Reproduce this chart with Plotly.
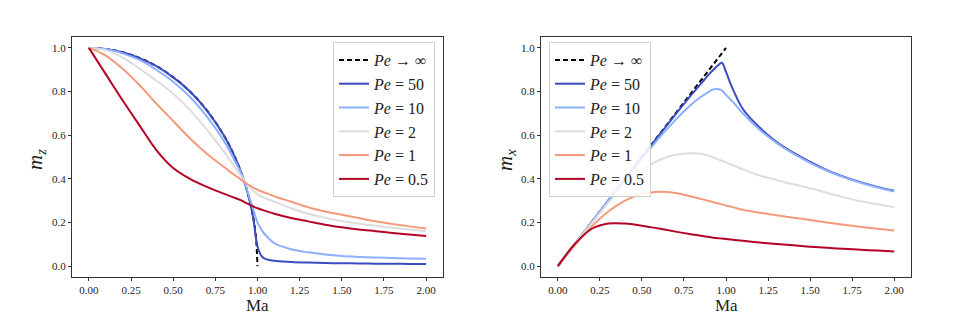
import plotly.graph_objects as go

# ---------------- data ----------------
MA = [0, 0.1, 0.2, 0.3, 0.4, 0.5, 0.6, 0.7, 0.8, 0.85, 0.9, 0.925, 0.95, 0.975,
      1.0, 1.025, 1.05, 1.1, 1.2, 1.3, 1.4, 1.5, 1.6, 1.7, 1.8, 1.9, 2.0]

# left panel: m_z
MA_INF_Z = [0, 0.1, 0.2, 0.3, 0.4, 0.5, 0.6, 0.7, 0.8, 0.85, 0.9, 0.95, 0.975, 0.99, 1.0]
MZ_INF = [1.0, 0.995, 0.98, 0.954, 0.917, 0.866, 0.80, 0.714, 0.60, 0.527, 0.436, 0.312, 0.222, 0.141, 0.0]
MZ_50 = [1.0, 0.995, 0.98, 0.953, 0.916, 0.865, 0.80, 0.713, 0.60, 0.527, 0.435, 0.38, 0.31, 0.22,
         0.09, 0.045, 0.032, 0.024, 0.019, 0.016, 0.014, 0.013, 0.012, 0.011, 0.011, 0.010, 0.010]
MZ_10 = [1.0, 0.995, 0.975, 0.945, 0.90, 0.845, 0.775, 0.685, 0.575, 0.505, 0.43, 0.38, 0.32, 0.26,
         0.20, 0.165, 0.14, 0.105, 0.077, 0.063, 0.053, 0.046, 0.042, 0.039, 0.037, 0.035, 0.034]
MZ_2 = [1.0, 0.99, 0.955, 0.905, 0.85, 0.79, 0.715, 0.625, 0.525, 0.47, 0.415, 0.39, 0.365, 0.345,
        0.33, 0.318, 0.31, 0.295, 0.265, 0.24, 0.222, 0.207, 0.195, 0.185, 0.176, 0.168, 0.16]
MZ_1 = [1.0, 0.965, 0.905, 0.83, 0.745, 0.665, 0.585, 0.515, 0.455, 0.425, 0.398, 0.383, 0.371, 0.36,
        0.35, 0.342, 0.335, 0.32, 0.295, 0.27, 0.25, 0.235, 0.22, 0.205, 0.193, 0.182, 0.172]
MZ_05 = [1.0, 0.88, 0.76, 0.645, 0.532, 0.45, 0.4, 0.363, 0.332, 0.317, 0.302, 0.292, 0.283, 0.273,
         0.265, 0.258, 0.252, 0.24, 0.22, 0.205, 0.19, 0.178, 0.168, 0.16, 0.152, 0.145, 0.138]

# right panel: m_x
MA_INF_X = [0, 1.0]
MX_INF = [0, 1.0]
MX_50 = [0, 0.1, 0.2, 0.3, 0.4, 0.5, 0.598, 0.695, 0.79, 0.835, 0.88, 0.9, 0.918, 0.932,
         0.89, 0.84, 0.795, 0.72, 0.635, 0.57, 0.52, 0.478, 0.44, 0.41, 0.385, 0.363, 0.345]
MX_10 = [0, 0.1, 0.2, 0.3, 0.395, 0.49, 0.585, 0.67, 0.745, 0.775, 0.80, 0.81, 0.812, 0.805,
         0.785, 0.765, 0.745, 0.70, 0.625, 0.565, 0.515, 0.473, 0.437, 0.407, 0.382, 0.36, 0.342]
MX_2 = [0, 0.1, 0.195, 0.29, 0.375, 0.44, 0.485, 0.51, 0.517, 0.515, 0.505, 0.498, 0.49, 0.483,
        0.475, 0.467, 0.46, 0.443, 0.415, 0.395, 0.375, 0.357, 0.336, 0.315, 0.297, 0.283, 0.27]
MX_1 = [0, 0.095, 0.18, 0.25, 0.3, 0.33, 0.341, 0.335, 0.318, 0.308, 0.298, 0.293, 0.288, 0.283,
        0.278, 0.273, 0.268, 0.258, 0.245, 0.233, 0.222, 0.211, 0.2, 0.19, 0.18, 0.171, 0.163]
MX_05 = [0, 0.1, 0.17, 0.195, 0.195, 0.185, 0.172, 0.158, 0.145, 0.139, 0.133, 0.13, 0.128, 0.126,
         0.124, 0.122, 0.12, 0.116, 0.108, 0.101, 0.095, 0.089, 0.084, 0.079, 0.075, 0.071, 0.067]

NAMES = ["<i>Pe</i> → ∞", "<i>Pe</i> = 50", "<i>Pe</i> = 10", "<i>Pe</i> = 2",
         "<i>Pe</i> = 1", "<i>Pe</i> = 0.5"]
COLORS = ["#000000", "#3b4cc0", "#8db0fe", "#dddddd", "#f49a7b", "#b40426"]

X_TICKS = [0, 0.25, 0.5, 0.75, 1.0, 1.25, 1.5, 1.75, 2.0]
X_TICKTEXT = ["0.00", "0.25", "0.50", "0.75", "1.00", "1.25", "1.50", "1.75", "2.00"]
Y_TICKS = [0, 0.2, 0.4, 0.6, 0.8, 1.0]
Y_TICKTEXT = ["0.0", "0.2", "0.4", "0.6", "0.8", "1.0"]

# ---------------- figure ----------------
FONT = "Liberation Serif"
fig = go.Figure()

left = [(MA_INF_Z, MZ_INF)] + [(MA, v) for v in (MZ_50, MZ_10, MZ_2, MZ_1, MZ_05)]
right = [(MA_INF_X, MX_INF)] + [(MA, v) for v in (MX_50, MX_10, MX_2, MX_1, MX_05)]

for panel, (series, xa, ya, lg) in enumerate([(left, "x", "y", "legend"),
                                                (right, "x2", "y2", "legend2")]):
    for i, (xs, ys) in enumerate(series):
        fig.add_trace(go.Scatter(
            x=xs, y=ys, mode="lines", name=NAMES[i],
            line=dict(color=COLORS[i], width=2,
                      dash="5px,3px" if i == 0 else "solid",
                      shape="spline", smoothing=1.0),
            xaxis=xa, yaxis=ya, legend=lg, legendgroup=f"{panel}-{i}",
        ))

axis_common = dict(showline=True, linecolor="#333333", linewidth=1, mirror=True,
                   ticks="outside", ticklen=3, tickcolor="#333333", showgrid=False,
                   zeroline=False, tickfont=dict(family=FONT, size=11, color="#222222"))

xdom_l = [72 / 962, 443 / 962]
xdom_r = [541 / 962, 911 / 962]
ydom = [1 - 277 / 317, 1 - 37 / 317]

leg_common = dict(yanchor="top", y=1 - 42 / 317,
                  bgcolor="rgba(255,255,255,0.85)", bordercolor="#d0d0d0", borderwidth=1,
                  font=dict(family=FONT, size=16, color="#222222"), tracegroupgap=0)

fig.update_layout(
    width=962, height=317,
    margin=dict(l=0, r=0, t=0, b=0),
    paper_bgcolor="white", plot_bgcolor="white",
    xaxis=dict(domain=xdom_l, range=[-0.1, 2.1], tickvals=X_TICKS, ticktext=X_TICKTEXT,
               anchor="y", **axis_common),
    yaxis=dict(domain=ydom, range=[-0.05, 1.05], tickvals=Y_TICKS, ticktext=Y_TICKTEXT,
               anchor="x", **axis_common),
    xaxis2=dict(domain=xdom_r, range=[-0.1, 2.1], tickvals=X_TICKS, ticktext=X_TICKTEXT,
                anchor="y2", **axis_common),
    yaxis2=dict(domain=ydom, range=[-0.05, 1.05], tickvals=Y_TICKS, ticktext=Y_TICKTEXT,
                anchor="x2", **axis_common),
    legend=dict(x=435 / 962, xanchor="right", **leg_common),
    legend2=dict(x=549 / 962, xanchor="left", **leg_common),
    showlegend=True,
)

ann_font = dict(family=FONT, size=17, color="#222222")
ann_common = dict(xref="paper", yref="paper", showarrow=False,
                  xanchor="center", yanchor="middle")
fig.add_annotation(text="Ma", x=(xdom_l[0] + xdom_l[1]) / 2, y=1 - 305 / 317,
                   font=ann_font, **ann_common)
fig.add_annotation(text="Ma", x=(xdom_r[0] + xdom_r[1]) / 2, y=1 - 305 / 317,
                   font=ann_font, **ann_common)
ylab_font = dict(family=FONT, size=21, color="#222222")
fig.add_annotation(text="<i>m</i><sub><i>z</i></sub>", x=36 / 962, y=1 - 160 / 317,
                   textangle=-90, font=ylab_font, **ann_common)
fig.add_annotation(text="<i>m</i><sub><i>x</i></sub>", x=506 / 962, y=1 - 160 / 317,
                   textangle=-90, font=ylab_font, **ann_common)

fig.write_html("out.html", config={"displayModeBar": False},
               post_script="document.body.style.margin='0';")
